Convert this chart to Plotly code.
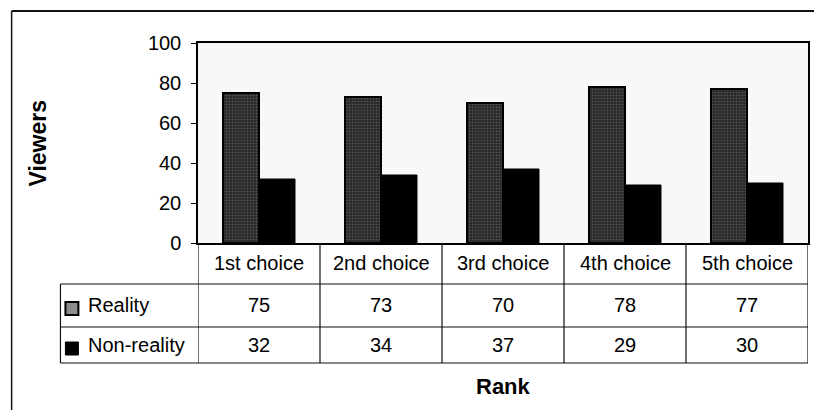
import plotly.graph_objects as go

# Survey data: viewers per rank choice
categories = ["1st choice", "2nd choice", "3rd choice", "4th choice", "5th choice"]
series_names = ["Reality", "Non-reality"]
reality = [75, 73, 70, 78, 77]
non_reality = [32, 34, 37, 29, 30]
y_ticks = [0, 20, 40, 60, 80, 100]

W, H = 814, 410
PL, PR, PT, PB = 198, 810, 43, 243  # plot area in pixels
FONT = "Liberation Sans, Arial, sans-serif"


def px_x(px):
    return (px - PL) / (PR - PL)


def px_y(py):
    return (PB - py) / (PB - PT)


fig = go.Figure()
fig.add_trace(go.Bar(
    x=categories, y=reality, name=series_names[0],
    marker=dict(
        color="#333333",
        line=dict(color="#000000", width=2),
        pattern=dict(shape=".", fgcolor="#8a8a8a", bgcolor="#2c2c2c", size=3, solidity=0.2),
    ),
))
fig.add_trace(go.Bar(
    x=categories, y=non_reality, name=series_names[1],
    marker=dict(color="#000000", line=dict(color="#000000", width=1)),
))

shapes = []
line = dict(color="#111111", width=1.2)

# outer chart frame (top and left edges)
shapes.append(dict(type="line", xref="paper", yref="paper",
                   x0=px_x(11), x1=px_x(W + 5), y0=px_y(11), y1=px_y(11),
                   line=dict(color="#111111", width=1.8)))
shapes.append(dict(type="line", xref="paper", yref="paper",
                   x0=px_x(11), x1=px_x(11), y0=px_y(11), y1=px_y(H + 5),
                   line=dict(color="#111111", width=1.5)))

# data table grid: horizontal rules
row_lines = [284, 327, 363]
for ry in row_lines:
    shapes.append(dict(type="line", xref="paper", yref="paper",
                       x0=px_x(60), x1=1, y0=px_y(ry), y1=px_y(ry), line=line))
# legend column left edge
shapes.append(dict(type="line", xref="paper", yref="paper",
                   x0=px_x(60), x1=px_x(60), y0=px_y(284), y1=px_y(363), line=line))
# column separators at category boundaries
for i in range(len(categories) + 1):
    shapes.append(dict(type="line", xref="x", yref="paper",
                       x0=i - 0.5, x1=i - 0.5, y0=0, y1=px_y(363), line=line))

# legend keys inside the table
shapes.append(dict(type="rect", xref="paper", yref="paper",
                   x0=px_x(65), x1=px_x(78), y0=px_y(302), y1=px_y(315),
                   fillcolor="#8c8c8c", line=dict(color="#000000", width=2)))
shapes.append(dict(type="rect", xref="paper", yref="paper",
                   x0=px_x(65), x1=px_x(78), y0=px_y(342), y1=px_y(355),
                   fillcolor="#000000", line=dict(color="#000000", width=1)))

annotations = []
text_font = dict(family=FONT, size=20, color="#000000")
row_centers = [263, 305, 345]


def cell(x, y, text, xref="x", xanchor="center"):
    return dict(x=x, y=y, xref=xref, yref="paper", text=text, showarrow=False,
                xanchor=xanchor, yanchor="middle", font=text_font)


for i, cat in enumerate(categories):
    annotations.append(cell(cat, px_y(row_centers[0]), cat))
    annotations.append(cell(cat, px_y(row_centers[1]), str(reality[i])))
    annotations.append(cell(cat, px_y(row_centers[2]), str(non_reality[i])))
for name, cy in zip(series_names, row_centers[1:]):
    annotations.append(cell(px_x(86), px_y(cy), name, xref="paper", xanchor="left"))

# axis titles
title_font = dict(family=FONT, size=22, color="#000000")
annotations.append(dict(x=px_x(505), y=px_y(386), xref="paper", yref="paper",
                        xanchor="center", yanchor="middle",
                        text="<b>Rank</b>", showarrow=False, font=title_font))
annotations.append(dict(x=px_x(37), y=px_y(143), xref="paper", yref="paper",
                        xanchor="center", yanchor="middle",
                        text="<b>Viewers</b>", textangle=-90, showarrow=False,
                        font=dict(family=FONT, size=23, color="#000000")))

fig.update_layout(
    width=W, height=H,
    margin=dict(l=PL, r=W - PR, t=PT, b=H - PB, pad=0),
    paper_bgcolor="#ffffff",
    plot_bgcolor="#f8f8f8",
    barmode="group",
    bargap=0.41,
    bargroupgap=0,
    showlegend=False,
    shapes=shapes,
    annotations=annotations,
    font=dict(family=FONT, size=20, color="#000000"),
)
fig.update_xaxes(
    range=[-0.5, len(categories) - 0.5],
    showticklabels=False, ticks="",
    showline=True, linecolor="#000000", linewidth=1.5, mirror=True,
    showgrid=False, zeroline=False,
)
fig.update_yaxes(
    range=[0, 100], tickvals=y_ticks,
    ticks="outside", ticklen=5, tickcolor="#000000", tickwidth=1,
    ticklabelstandoff=6,
    tickfont=dict(family=FONT, size=20, color="#000000"),
    showline=True, linecolor="#000000", linewidth=1.5, mirror=True,
    showgrid=False, zeroline=False,
)

fig.write_html("out.html")
